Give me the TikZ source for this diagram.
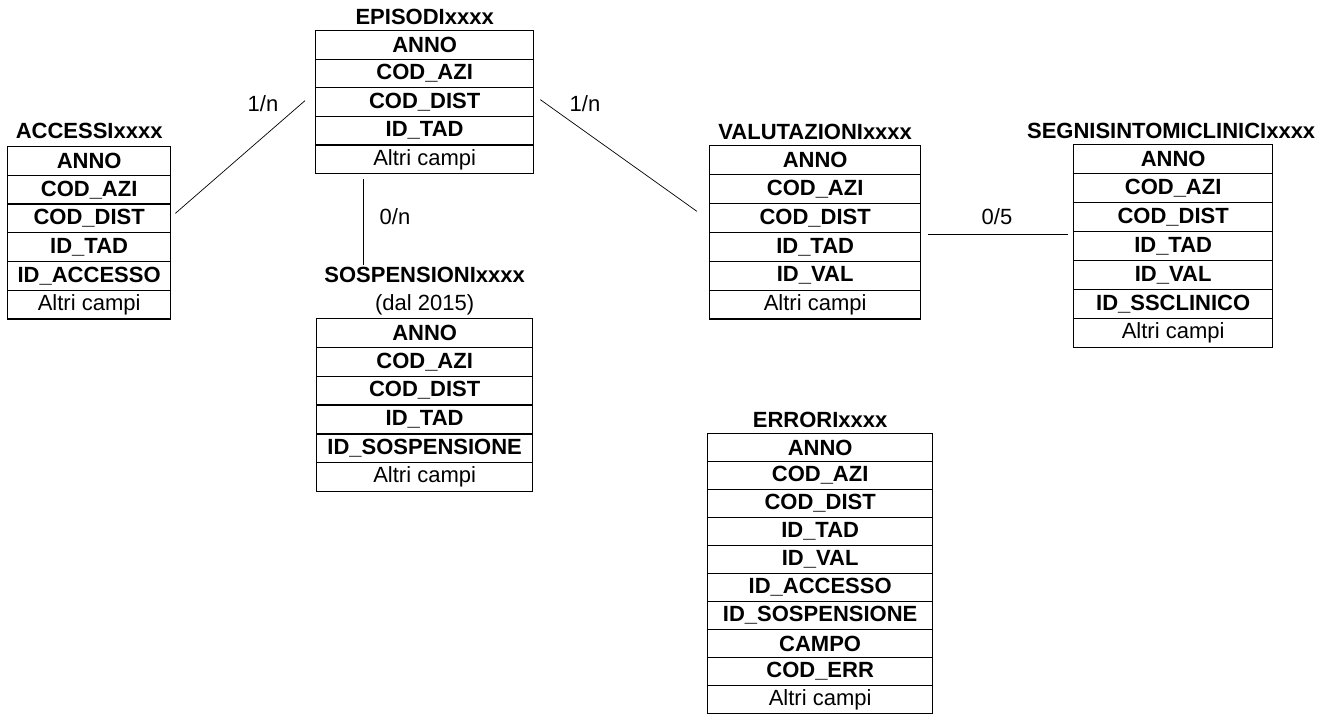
\documentclass[tikz,border=0pt]{standalone}
\usepackage{fontspec}
\setmainfont{Liberation Sans}
\newcommand\fsz{\fontsize{22}{24}\selectfont}
\tikzset{
  cell/.style={draw, line width=1.3pt, inner sep=0pt, font=\fsz\bfseries, anchor=north west},
  ttl/.style={font=\fsz\bfseries, anchor=base, inner sep=0pt},
  sub/.style={font=\fsz, anchor=base, inner sep=0pt},
  lbl/.style={font=\fsz, anchor=base, inner sep=0pt},
  conn/.style={line width=0.7pt}
}
\newcommand\dbtable[6]{%
  \foreach \txt [count=\i] in {#6}{%
    \node[cell, minimum width=#4pt, minimum height=#5pt] (#1\i) at (#2,{#3+(\i-1)*#5}) {\txt};
  }%
}
\begin{document}
\begin{tikzpicture}[x=1pt,y=-1pt]
\useasboundingbox (0,0) rectangle (1323,722);

\dbtable{acc}{7}{146}{163}{28.7}{ANNO,COD\_AZI,COD\_DIST,ID\_TAD,ID\_ACCESSO,{\mdseries Altri campi}}
\dbtable{epi}{315}{30}{218}{28.6}{ANNO,COD\_AZI,COD\_DIST,ID\_TAD,{\mdseries Altri campi}}
\dbtable{sos}{316}{318}{216}{28.8}{ANNO,COD\_AZI,COD\_DIST,ID\_TAD,ID\_SOSPENSIONE,{\mdseries Altri campi}}
\dbtable{val}{709}{145}{211}{28.9}{ANNO,COD\_AZI,COD\_DIST,ID\_TAD,ID\_VAL,{\mdseries Altri campi}}
\dbtable{seg}{1073}{144}{199}{29}{ANNO,COD\_AZI,COD\_DIST,ID\_TAD,ID\_VAL,ID\_SSCLINICO,{\mdseries Altri campi}}
\dbtable{err}{707}{433}{225}{28}{ANNO,COD\_AZI,COD\_DIST,ID\_TAD,ID\_VAL,ID\_ACCESSO,ID\_SOSPENSIONE,CAMPO,COD\_ERR,{\mdseries Altri campi}}

\node[ttl] (accT) at ([shift={(0,-7)}]acc1.north) {ACCESSIxxxx};
\node[ttl] (epiT) at ([shift={(0,-5)}]epi1.north) {EPISODIxxxx};
\node[sub] (sosD) at ([shift={(0,-8)}]sos1.north) {(dal 2015)};
\node[ttl] (sosT) at ([shift={(0,-35)}]sos1.north) {SOSPENSIONIxxxx};
\node[ttl] (valT) at ([shift={(0,-5)}]val1.north) {VALUTAZIONIxxxx};
\node[ttl] (segT) at ([shift={(-2,-5)}]seg1.north) {SEGNISINTOMICLINICIxxxx};
\node[ttl] (errT) at ([shift={(0,-6)}]err1.north) {ERRORIxxxx};

\draw[conn] ([shift={(-10,-1.5)}]epi3.west) -- ([shift={(4,-5)}]acc3.east);
\draw[conn] ([shift={(6,-2.5)}]epi3.east) -- ([shift={(-12,-6.5)}]val3.west);
\coordinate (vb) at (363,265);
\draw[conn] ([shift={(0,5)}]epi5.south -| vb) -- (vb);
\draw[conn] ([shift={(7,1.5)}]val3.south east) coordinate (h1) -- ([xshift=-5pt]h1 -| seg3.west);

\node[lbl] (l1) at (263,112) {1/n};
\node[lbl] (l2) at (585,112) {1/n};
\node[lbl] (l3) at (395,225) {0/n};
\node[lbl] (l4) at (997,225) {0/5};
\end{tikzpicture}
\end{document}
